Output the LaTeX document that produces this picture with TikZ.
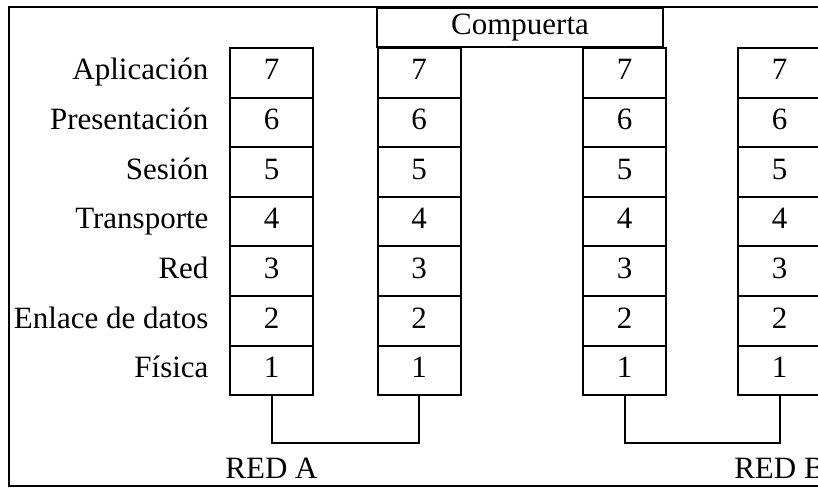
\documentclass[tikz,border=0pt]{standalone}
\usepackage{fontspec}
\setmainfont{Liberation Serif}
\usetikzlibrary{positioning}
\tikzset{layer/.style={draw,line width=2pt,minimum width=83pt,minimum height=49.6pt,
 inner sep=0pt,outer sep=0pt,text depth=6pt},
 link/.style={line width=2pt},
 netname/.style={anchor=base,inner sep=0pt},
 every node/.style={font=\fontsize{31}{36}\selectfont}}

\begin{document}
\begin{tikzpicture}[x=1pt,y=-1pt]
\useasboundingbox (0,0) rectangle (818,487);
\clip (0,0) rectangle (818,487);
\draw[link] (9,7) rectangle (840,485.5);
% four protocol stacks
\foreach \s/\xc in {1/271.5,2/419,3/624.5,4/779.5} {
 \node[layer] (s\s-7) at (\xc,72.8) {7};
 \foreach \n/\m in {6/7,5/6,4/5,3/4,2/3,1/2}
  \node[layer,below=0pt of s\s-\m] (s\s-\n) {\n};
}
\foreach \n/\name in {7/Aplicación,6/Presentación,5/Sesión,4/Transporte,3/Red,2/Enlace de datos,1/Física}
 \node[base left=18pt of s1-\n] (l\n) {\name};
\node[draw,line width=2pt,minimum width=286pt,minimum height=39pt,inner sep=0pt] (gate) at (520,27.5) {Compuerta};
% physical links
\draw[link] (s1-1.south) -- ++(0,48) -| (s2-1.south);
\draw[link] (s3-1.south) -- ++(0,48) -| (s4-1.south);
\node[netname] (redA) at (s1-1.south |- 0,478) {RED A};
\node[netname] (redB) at (s4-1.south |- 0,478) {RED B};
\end{tikzpicture}
\end{document}
